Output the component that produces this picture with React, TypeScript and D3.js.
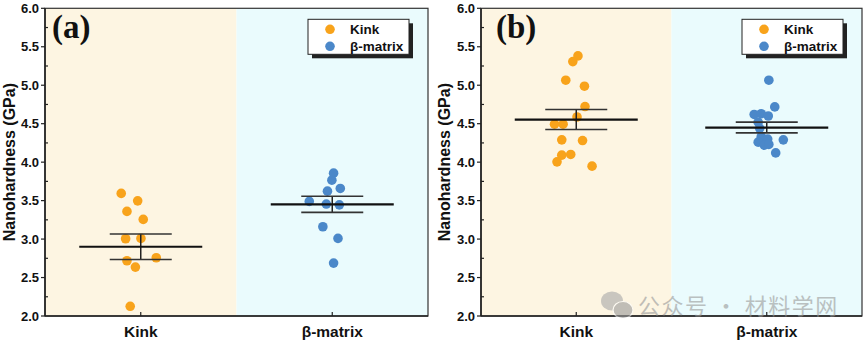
import React from "react";
import * as d3 from "d3";

const categories = ["Kink", "β-matrix"];
const yTickValues = [2.0, 2.5, 3.0, 3.5, 4.0, 4.5, 5.0, 5.5, 6.0];

// Panel (a)
const kinkA = [3.594, 3.497, 3.36, 3.256, 3.004, 3.009, 2.757, 2.718, 2.636, 2.126];
const kinkAJitter = [-0.102, -0.016, -0.072, 0.013, -0.079, 0.001, 0.081, -0.072, -0.028, -0.055];
const betaA = [3.857, 3.766, 3.658, 3.623, 3.49, 3.455, 3.445, 3.16, 3.009, 2.688];
const betaAJitter = [0.007, -0.002, 0.042, -0.025, -0.12, -0.031, 0.037, -0.049, 0.03, 0.007];
const meanA = [2.9, 3.452];
const semA = [0.165, 0.105];

// Panel (b)
const kinkB = [5.381, 5.307, 5.065, 4.987, 4.723, 4.587, 4.494, 4.494, 4.29, 4.281, 4.091, 4.1, 4.004, 3.948];
const kinkBJitter = [0.009, -0.018, -0.055, 0.043, 0.046, 0.004, -0.114, -0.069, -0.076, 0.033, -0.076, -0.029, -0.101, 0.083];
const betaB = [5.065, 4.718, 4.62, 4.63, 4.6, 4.52, 4.44, 4.33, 4.3, 4.29, 4.26, 4.22, 4.23, 4.12];
const betaBJitter = [0.011, 0.042, -0.066, -0.029, 0.008, -0.045, -0.037, -0.029, 0.005, 0.087, -0.045, -0.013, 0.011, 0.047];
const meanB = [4.554, 4.45];
const semB = [0.13, 0.07];

const ORANGE = "#F8A31B";
const BLUE = "#4B88C9";
const TAN = "#FDF5E2";
const CYAN = "#EAFBFD";
const SANS = "Liberation Sans, Arial, sans-serif";

type PanelProps = {
  left: number;
  right: number;
  top: number;
  bottom: number;
  label: string;
  labelX: number;
  kink: number[];
  kinkJ: number[];
  beta: number[];
  betaJ: number[];
  means: number[];
  sems: number[];
  yLabelX: number;
};

function Panel(p: PanelProps) {
  const x = d3.scaleLinear().domain([0, 2]).range([p.left, p.right]);
  const y = d3.scaleLinear().domain([2, 6]).range([p.bottom, p.top]);
  const minor = d3.range(2.25, 6, 0.5);
  const series = [
    { vals: p.kink, jit: p.kinkJ, color: ORANGE },
    { vals: p.beta, jit: p.betaJ, color: BLUE },
  ];
  const legX = p.right - 120;
  const legY = p.top + 11;
  return (
    <g>
      <rect x={x(0)} y={y(6)} width={x(1) - x(0)} height={y(2) - y(6)} fill={TAN} />
      <rect x={x(1)} y={y(6)} width={x(2) - x(1)} height={y(2) - y(6)} fill={CYAN} />
      {series.map((s, si) =>
        s.vals.map((v, i) => (
          <circle key={`${si}-${i}`} cx={x(si + 0.5 + s.jit[i])} cy={y(v)} r={4.8} fill={s.color} />
        ))
      )}
      {p.means.map((m, i) => {
        const cx = x(i + 0.5);
        const se = p.sems[i];
        return (
          <g key={`eb${i}`}>
            <line x1={cx} x2={cx} y1={y(m + se)} y2={y(m - se)} stroke="#222" strokeWidth={1.5} />
            <line x1={cx - 31} x2={cx + 31} y1={y(m + se)} y2={y(m + se)} stroke="#333" strokeWidth={1.6} />
            <line x1={cx - 31} x2={cx + 31} y1={y(m - se)} y2={y(m - se)} stroke="#333" strokeWidth={1.6} />
            <line x1={cx - 61.5} x2={cx + 61.5} y1={y(m)} y2={y(m)} stroke="#111" strokeWidth={2.2} />
          </g>
        );
      })}
      {/* frame */}
      <rect x={p.left} y={p.top} width={p.right - p.left} height={p.bottom - p.top} fill="none" stroke="#333" strokeWidth={1.2} />
      <line x1={p.left} x2={p.left} y1={p.top} y2={p.bottom} stroke="#222" strokeWidth={1.6} />
      <line x1={p.left} x2={p.right} y1={p.bottom} y2={p.bottom} stroke="#222" strokeWidth={1.6} />
      {yTickValues.map((t) => (
        <g key={`yt${t}`}>
          <line x1={p.left - 4} x2={p.left} y1={y(t)} y2={y(t)} stroke="#222" strokeWidth={1.2} />
          <text x={p.left - 6} y={y(t)} dy="0.35em" textAnchor="end" fontFamily={SANS} fontWeight="bold" fontSize={13} fill="#111">
            {d3.format(".1f")(t)}
          </text>
        </g>
      ))}
      {minor.map((t) => (
        <line key={`mt${t}`} x1={p.left} x2={p.left + 3} y1={y(t)} y2={y(t)} stroke="#222" strokeWidth={1.2} />
      ))}
      {categories.map((c, i) => (
        <g key={c}>
          <line x1={x(i + 0.5)} x2={x(i + 0.5)} y1={p.bottom} y2={p.bottom - 4} stroke="#222" strokeWidth={1.2} />
          <text x={x(i + 0.5)} y={p.bottom + 21} textAnchor="middle" fontFamily={SANS} fontWeight="bold" fontSize={15.5} fill="#111">
            {c}
          </text>
        </g>
      ))}
      <text
        transform={`translate(${p.yLabelX},${(p.top + p.bottom) / 2}) rotate(-90)`}
        textAnchor="middle"
        dy="0.35em"
        fontFamily={SANS}
        fontWeight="bold"
        fontSize={16}
        fill="#111"
      >
        Nanohardness (GPa)
      </text>
      <text x={p.labelX} y={p.top + 30} fontFamily="Liberation Serif, Times New Roman, serif" fontWeight="bold" fontSize={33} fill="#111">
        {p.label}
      </text>
      {/* legend */}
      <rect x={legX + 4} y={legY + 4} width={101} height={35} fill="#222" />
      <rect x={legX} y={legY} width={101} height={35} fill="#fff" stroke="#222" strokeWidth={1} />
      {categories.map((c, i) => (
        <g key={`lg${c}`}>
          <circle cx={legX + 22} cy={legY + 10 + i * 17} r={4.8} fill={i === 0 ? ORANGE : BLUE} />
          <text x={legX + 42} y={legY + 10 + i * 17} dy="0.35em" fontFamily={SANS} fontWeight="bold" fontSize={13.5} fill="#111">
            {c}
          </text>
        </g>
      ))}
    </g>
  );
}

export default function App() {
  return (
    <svg width={865} height={341} style={{ position: "absolute", left: 0, top: 0, background: "#fff" }}>
      <rect x={0} y={0} width={865} height={341} fill="#fff" />
      <Panel left={45} right={428} top={8.3} bottom={316} label="(a)" labelX={52} kink={kinkA} kinkJ={kinkAJitter} beta={betaA} betaJ={betaAJitter} means={meanA} sems={semA} yLabelX={9} />
      <Panel left={481} right={862} top={8.3} bottom={316} label="(b)" labelX={496} kink={kinkB} kinkJ={kinkBJitter} beta={betaB} betaJ={betaBJitter} means={meanB} sems={semB} yLabelX={444} />
      <g opacity={0.6}>
        <ellipse cx={612} cy={301} rx={11} ry={9.5} fill="#a8a8a8" />
        <ellipse cx={623} cy={310} rx={10} ry={8.5} fill="#999" stroke="#fff" strokeWidth={1.2} />
        <text x={638} y={306} dy="0.35em" fontFamily="Noto Sans CJK SC, sans-serif" fontSize={22} letterSpacing={1.5} fill="#999">
          公众号 · 材料学网
        </text>
      </g>
    </svg>
  );
}
